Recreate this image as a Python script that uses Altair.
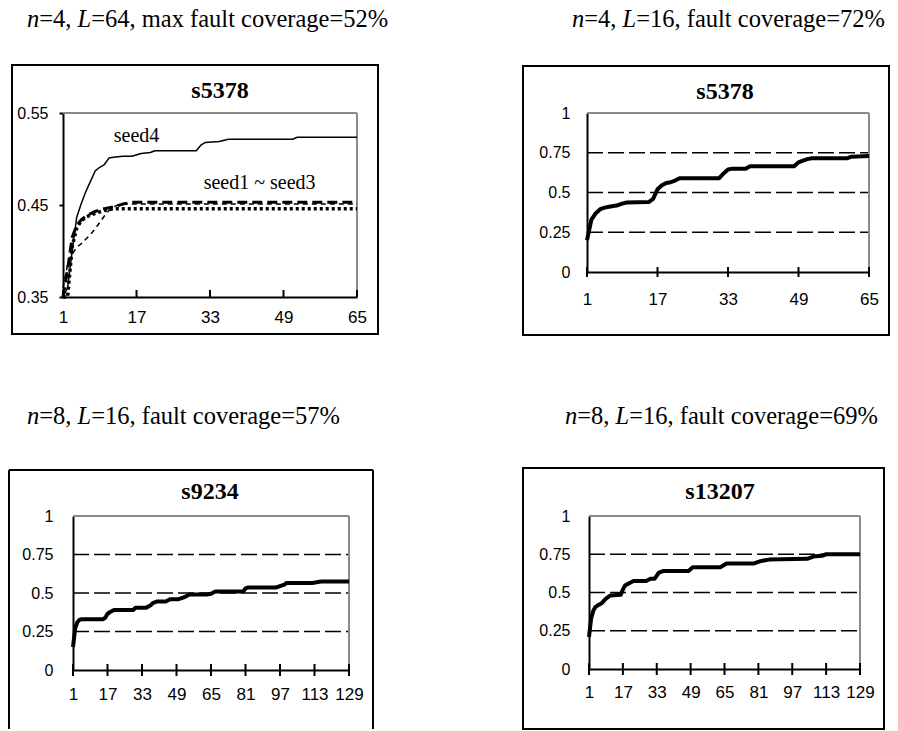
import altair as alt
import pandas as pd

# ---------------- data ----------------
panel_titles = ["s5378", "s5378", "s9234", "s13207"]
cap_n = ["4", "4", "8", "8"]
cap_L = ["64", "16", "16", "16"]
cap_rest = ["max fault coverage=52%", "fault coverage=72%",
            "fault coverage=57%", "fault coverage=69%"]

# top-left: four seeds, n=4, L=64
tl_seed4_x = [1, 2, 3, 4, 5, 6, 7, 8, 9, 10, 11, 12, 14, 16, 18, 20, 21, 30, 31, 32, 35, 37, 51, 52, 65]
tl_seed4_y = [0.35, 0.36, 0.40, 0.437, 0.452, 0.465, 0.476, 0.487, 0.491, 0.494, 0.501, 0.502, 0.503,
              0.503, 0.506, 0.507, 0.509, 0.509, 0.515, 0.518, 0.519, 0.5215, 0.5215, 0.5237, 0.5237]
tl_seed1_x = [1, 2, 3, 4, 5, 6, 8, 10, 12, 14, 16, 65]
tl_seed1_y = [0.35, 0.38, 0.415, 0.428, 0.434, 0.438, 0.443, 0.446, 0.448, 0.451, 0.453, 0.453]
tl_seed2_x = [1, 2, 3, 4, 5, 6, 8, 10, 12, 65]
tl_seed2_y = [0.35, 0.35, 0.405, 0.425, 0.433, 0.437, 0.441, 0.444, 0.446, 0.446]
tl_seed3_x = [1, 2, 3, 4, 5, 6, 7, 8, 9, 10, 11, 12, 13, 14, 65]
tl_seed3_y = [0.36, 0.385, 0.397, 0.404, 0.408, 0.413, 0.418, 0.424, 0.431, 0.438, 0.444, 0.448,
              0.45, 0.451, 0.451]
tl_notes = ["seed4", "seed1 ~ seed3"]
tl_notes_x = [17, 43.8]
tl_notes_y = [0.5245, 0.474]

# top-right: s5378, n=4, L=16
tr_x = [1, 2, 3, 4, 5, 6, 7, 8, 9, 10, 15, 16, 17, 18, 19, 20, 21, 22, 31, 32, 33, 34, 37, 38,
        48, 49, 50, 51, 52, 60, 61, 65]
tr_y = [0.2, 0.33, 0.37, 0.395, 0.405, 0.41, 0.415, 0.42, 0.43, 0.437, 0.44, 0.46, 0.52, 0.545,
        0.56, 0.565, 0.575, 0.59, 0.59, 0.62, 0.645, 0.65, 0.65, 0.665, 0.665, 0.69, 0.70, 0.71,
        0.715, 0.715, 0.725, 0.73]

# bottom-left: s9234, n=8, L=16
bl_x = [1, 2, 3, 4, 5, 6, 15, 16, 17, 18, 20, 29, 30, 35, 37, 38, 40, 44, 46, 50, 53, 55, 63, 65,
        67, 80, 81, 82, 95, 97, 99, 100, 112, 114, 116, 129]
bl_y = [0.15, 0.27, 0.31, 0.325, 0.33, 0.33, 0.33, 0.34, 0.365, 0.375, 0.39, 0.39, 0.405, 0.405,
        0.42, 0.435, 0.445, 0.445, 0.46, 0.46, 0.475, 0.49, 0.49, 0.495, 0.51, 0.51, 0.53, 0.535,
        0.535, 0.545, 0.555, 0.565, 0.565, 0.57, 0.575, 0.575]

# bottom-right: s13207, n=8, L=16
br_x = [1, 2, 3, 4, 5, 7, 9, 11, 16, 17, 18, 20, 22, 28, 30, 32, 33, 34, 36, 48, 50, 63, 66, 79,
        82, 86, 104, 107, 111, 113, 129]
br_y = [0.21, 0.33, 0.38, 0.405, 0.415, 0.43, 0.46, 0.48, 0.485, 0.52, 0.545, 0.56, 0.575, 0.575,
        0.59, 0.59, 0.61, 0.63, 0.64, 0.64, 0.665, 0.665, 0.69, 0.69, 0.705, 0.715, 0.72, 0.735,
        0.74, 0.75, 0.75]

x_ticks_64 = [1, 17, 33, 49, 65]
x_ticks_128 = [1, 17, 33, 49, 65, 81, 97, 113, 129]
y_ticks_tl = [0.35, 0.45, 0.55]
y_ticks = [0, 0.25, 0.5, 0.75, 1]
grid_levels = [0.25, 0.5, 0.75]

SERIF = "Liberation Serif"
SANS = "Liberation Sans"
CAP = 24.5


def one(text=""):
    return pd.DataFrame({"t": [text]})


def text_px(text, px, py, size, bold=False, italic=False, align="center"):
    return alt.Chart(one(text)).mark_text(
        font=SERIF, fontSize=size, fontWeight="bold" if bold else "normal",
        fontStyle="italic" if italic else "normal", align=align, baseline="middle",
        color="black").encode(text="t:N", x=alt.value(px), y=alt.value(py))


def rule_px(x1, y1, x2, y2, color="black", width=2, opacity=1):
    return alt.Chart(one()).mark_rule(color=color, strokeWidth=width, opacity=opacity).encode(
        x=alt.value(x1), y=alt.value(y1), x2=alt.value(x2), y2=alt.value(y2))


def rect_px(x1, y1, x2, y2):
    return alt.Chart(one()).mark_rect(fill="white", fillOpacity=0, stroke="black",
                                      strokeWidth=2).encode(
        x=alt.value(x1), y=alt.value(y1), x2=alt.value(x2), y2=alt.value(y2))


def caption(i, x0, y0, f):
    w_n, w_eq, w_L = 0.5 * f, 1.564 * f, 0.556 * f
    return [
        text_px("n", x0, y0, f, italic=True, align="left"),
        text_px("=" + cap_n[i] + ",", x0 + w_n, y0, f, align="left"),
        text_px("L", x0 + w_n + w_eq, y0, f, italic=True, align="left"),
        text_px("=" + cap_L[i] + ", " + cap_rest[i], x0 + w_n + w_eq + w_L, y0, f, align="left"),
    ]


def panel(i, series, xdom, ydom, xt, yt, w, h, grid, title_xy, frame, cap_xy, cap_size,
          tick_span, y_tick, y_pad, x_pad, notes=None, anchor=None):
    X = alt.X("x:Q", scale=alt.Scale(domain=xdom, nice=False, zero=False),
              axis=alt.Axis(values=xt, format="d", title=None, grid=False, domainColor="black",
                            domainWidth=2, ticks=False, labelPadding=x_pad, labelFont=SANS,
                            labelFontSize=17, labelColor="black", labelFlush=False,
                            labelOverlap=False))
    Y = alt.Y("y:Q", scale=alt.Scale(domain=ydom, nice=False, zero=False),
              axis=alt.Axis(values=yt, labelExpr="'' + datum.value", title=None, grid=False,
                            domainColor="black", domainWidth=2, ticks=y_tick > 0,
                            tickSize=max(y_tick, 1), tickColor="black", tickWidth=2,
                            labelPadding=y_pad, labelFont=SANS, labelFontSize=16,
                            labelColor="black", labelFlush=False, labelOverlap=False))
    layers = []
    if grid:
        layers.append(alt.Chart(pd.DataFrame({"y": grid})).mark_rule(
            color="black", strokeWidth=1.5, strokeDash=[16, 5]).encode(
            y=Y, x=alt.value(0), x2=alt.value(w)))
    # plot-area border (gray top / right)
    layers.append(rule_px(0, 0, w, 0, color="#8a8a8a", width=2))
    layers.append(rule_px(w, 0, w, h, color="#8a8a8a", width=2))
    for s in series:
        kw = dict(color="black", strokeWidth=s["w"], strokeJoin="round")
        if s.get("dash"):
            kw["strokeDash"] = s["dash"]
        layers.append(alt.Chart(pd.DataFrame({"x": s["x"], "y": s["y"]})).mark_line(**kw).encode(
            x=X, y=Y))
    # x ticks
    layers.append(alt.Chart(pd.DataFrame({"x": xt})).mark_rule(color="black", strokeWidth=2).encode(
        x=X, y=alt.value(h + tick_span[0]), y2=alt.value(h - tick_span[1])))
    if notes is not None:
        layers.append(alt.Chart(pd.DataFrame({"x": notes[1], "y": notes[2], "t": notes[0]})).mark_text(
            font=SERIF, fontSize=20, color="black", baseline="middle").encode(
            x=X, y=Y, text="t:N"))
    layers.append(text_px(panel_titles[i], title_xy[0], title_xy[1], 24, bold=True))
    fx1, fy1, fx2, fy2, closed = frame
    if closed:
        layers.append(rect_px(fx1, fy1, fx2, fy2))
    else:
        layers.append(rule_px(fx1, fy1, fx2, fy1))
        layers.append(rule_px(fx1, fy1, fx1, fy2))
        layers.append(rule_px(fx2, fy1, fx2, fy2))
    layers += caption(i, cap_xy[0], cap_xy[1], cap_size)
    if anchor is not None:
        layers.append(rule_px(anchor[0], anchor[1], anchor[0], anchor[1], width=1, opacity=0))
    return alt.layer(*layers).properties(width=w, height=h)


def spacer(w, h):
    return alt.Chart(one()).mark_point(opacity=0).encode(
        x=alt.value(0), y=alt.value(0)).properties(width=w, height=h)


tl = panel(0,
           [dict(x=tl_seed4_x, y=tl_seed4_y, w=1.5),
            dict(x=tl_seed1_x, y=tl_seed1_y, w=3, dash=[10, 5]),
            dict(x=tl_seed2_x, y=tl_seed2_y, w=3.5, dash=[3, 3]),
            dict(x=tl_seed3_x, y=tl_seed3_y, w=1.5, dash=[5, 4])],
           [1, 65], [0.35, 0.55], x_ticks_64, y_ticks_tl, 294, 184, None,
           (157, -22), (-51, -48, 315, 221, True), (-36, -93), CAP,
           (0, 7), 4, 11, 12, notes=(tl_notes, tl_notes_x, tl_notes_y), anchor=(-62.5, -112.5))

tr = panel(1, [dict(x=tr_x, y=tr_y, w=4)], [1, 65], [0, 1], x_ticks_64, y_ticks, 282, 159,
           grid_levels, (138, -21), (-64, -47, 302, 222, True), (-15, -93), CAP,
           (5, 5), 0, 17, 19)

bl = panel(2, [dict(x=bl_x, y=bl_y, w=4)], [1, 129], [0, 1], x_ticks_128, y_ticks, 276, 154,
           grid_levels, (137, -24), (-64, -46, 300, 213, False), (-46, -99), CAP,
           (6, 6), 0, 20, 16)

br = panel(3, [dict(x=br_x, y=br_y, w=4)], [1, 129], [0, 1], x_ticks_128, y_ticks, 271, 153,
           grid_levels, (131, -24), (-66, -48, 295, 213, True), (-24, -99), CAP,
           (6, 6), 0, 19, 15)

top = alt.hconcat(tl, spacer(230, 10), tr, spacing=0, bounds="flush")
bottom = alt.hconcat(spacer(10, 10), bl, spacer(240, 10), br, spacing=0, bounds="flush")

chart = alt.vconcat(top, bottom, spacing=403, bounds="flush").properties(
    padding=0, background="white"
).configure_view(stroke="transparent")

chart.save("out.html", embed_options={"renderer": "svg", "actions": False})
